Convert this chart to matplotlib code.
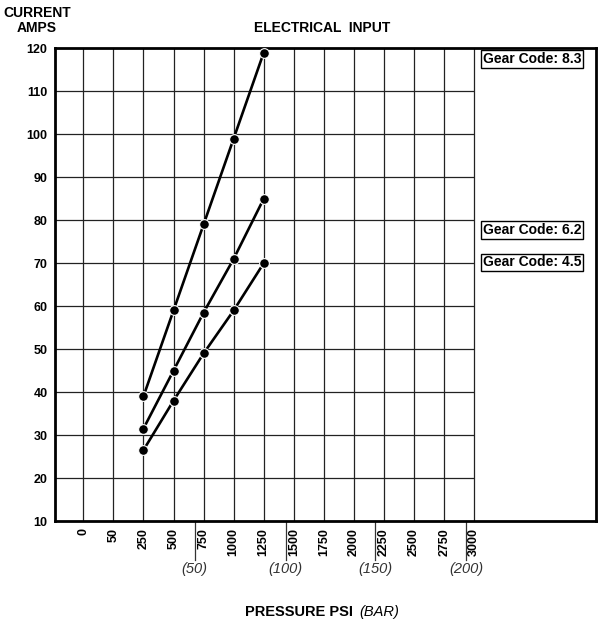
import matplotlib.pyplot as plt
import matplotlib.transforms as mtransforms

plt.rcParams['font.family'] = ['Liberation Sans', 'DejaVu Sans']

# data
psi_labels = ['0', '50', '250', '500', '750', '1000', '1250', '1500',
              '1750', '2000', '2250', '2500', '2750', '3000']
psi_points = ['250', '500', '750', '1000', '1250']
amps_83 = [39, 59, 79, 99, 119]
amps_62 = [31.5, 45, 58.5, 71, 85]
amps_45 = [26.5, 38, 49, 59, 70]
gear_labels = ['Gear Code: 8.3', 'Gear Code: 6.2', 'Gear Code: 4.5']
gear_label_y = [117.5, 77.7, 70.2]
bar_labels = ['(50)', '(100)', '(150)', '(200)']
bar_pos = [3.7, 6.73, 9.7, 12.73]   # position of bar marks on psi scale (index units)
amp_ticks = [10, 20, 30, 40, 50, 60, 70, 80, 90, 100, 110, 120]

fig = plt.figure(figsize=(5.99, 6.23), dpi=100)
ax = fig.add_axes([0.091, 0.1637, 0.904, 0.7588])

xmin, xmax = -0.958, 17.05
ax.set_xlim(xmin, xmax)
ax.set_ylim(10, 120)

last = len(psi_labels) - 1
# grid only over the psi range, right part left blank for labels
ax.hlines(amp_ticks[1:-1], xmin, last, colors='#222222', lw=0.9, zorder=1)
ax.vlines(range(len(psi_labels)), 10, 120, colors='#222222', lw=0.9, zorder=1)

xi = [psi_labels.index(p) for p in psi_points]
for series in (amps_83, amps_62, amps_45):
    ax.plot(xi, series, color='black', lw=1.9, marker='o', ms=7,
            mfc='black', mec='white', mew=0.8, zorder=3)

for txt, y in zip(gear_labels, gear_label_y):
    ax.text(13.29, y, txt, fontsize=10, fontweight='bold', va='center', ha='left',
            bbox=dict(boxstyle='square,pad=0.12', fc='white', ec='black', lw=1))

ax.set_xticks(range(len(psi_labels)))
ax.set_xticklabels(psi_labels, rotation=90, fontsize=9, fontweight='bold')
ax.set_yticks(amp_ticks)
ax.set_yticklabels([str(v) for v in amp_ticks], fontsize=9, fontweight='bold')
ax.tick_params(axis='both', length=0)
ax.tick_params(axis='x', pad=5)
ax.tick_params(axis='y', pad=5)
for s in ax.spines.values():
    s.set_linewidth(2)

# secondary bar scale marks below the axis
trans = mtransforms.blended_transform_factory(ax.transData, ax.transAxes)
for p, lab in zip(bar_pos, bar_labels):
    ax.plot([p, p], [0, -0.083], color='#333333', lw=0.9, transform=trans, clip_on=False)
    ax.text(p, -0.101, lab, transform=trans, ha='center', va='center',
            fontsize=10.5, style='italic', color='#333333')

fig.text(37 / 599, 1 - 13 / 623, 'CURRENT', ha='center', va='center', fontsize=10, fontweight='bold')
fig.text(37 / 599, 1 - 28 / 623, 'AMPS', ha='center', va='center', fontsize=10, fontweight='bold')
fig.text(322 / 599, 1 - 28 / 623, 'ELECTRICAL  INPUT', ha='center', va='center',
         fontsize=10, fontweight='bold')
fig.text(357 / 599, 1 - 612 / 623, 'PRESSURE PSI ', ha='right', va='center',
         fontsize=10.5, fontweight='bold')
fig.text(359 / 599, 1 - 612 / 623, '(BAR)', ha='left', va='center',
         fontsize=10.5, style='italic')

fig.savefig('out.png', dpi=100)
